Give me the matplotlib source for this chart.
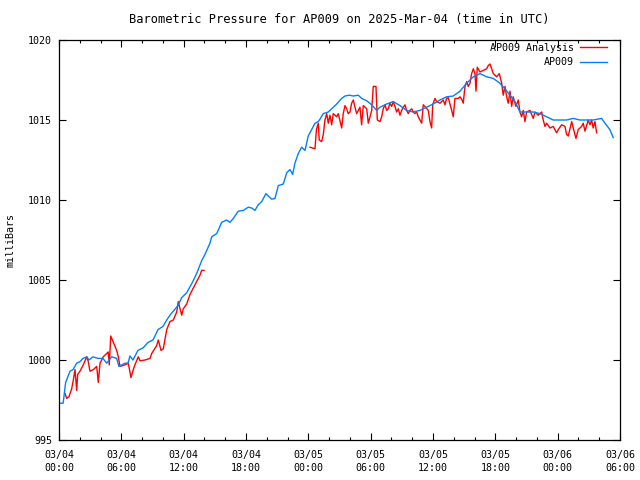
"""
Barometric pressure chart, gnuplot style.
"""

import matplotlib
matplotlib.use("Agg")
import matplotlib.pyplot as plt
import numpy as np
from matplotlib.ticker import MultipleLocator

# Station reading (hours since 03/04 00:00 UTC, mbar)
station_hours = [
    0.1, 0.4, 0.64, 1.06, 1.35, 1.70, 2.02, 2.31, 2.67, 2.89, 3.27, 3.75, 4.23,
    4.59, 5.07, 5.55, 5.77, 6.35, 6.64, 6.83, 7.12, 7.60, 8.08, 8.57, 9.05,
    9.53, 10.01, 10.37, 10.68, 11.45, 11.81, 12.29, 12.8, 13.25, 13.73, 14.05,
    14.53, 14.70, 15.18, 15.66, 16.14, 16.46, 16.78, 17.26, 17.74, 18.22,
    18.55, 18.86, 19.18, 19.51, 19.92, 20.14, 20.47, 20.79, 21.11, 21.59,
    21.92, 22.23, 22.49, 22.71, 23.03, 23.36, 23.68, 23.99, 24.32, 24.64,
    24.96, 25.12, 25.44, 25.92, 26.40, 26.73, 27.21, 27.53, 27.94, 28.33,
    28.81, 29.13, 29.62, 30.10, 30.58, 30.90, 31.54, 32.18, 32.82, 33.46,
    34.10, 34.74, 35.39, 36.02, 36.67, 37.31, 37.95, 38.60, 39.24, 39.88,
    40.52, 41.16, 41.80, 42.44, 42.93, 43.41, 43.89, 44.37, 45.01, 45.65,
    46.29, 46.94, 47.57, 48.22, 48.86, 49.50, 50.14, 50.79, 51.42, 52.23,
    52.55, 53.03, 53.35,
]
station_mbar = [
    997.3, 997.3, 998.6, 999.3, 999.4, 999.8, 999.9, 1000.1, 1000.2, 1000.0,
    1000.2, 1000.1, 1000.1, 999.8, 1000.2, 1000.1, 999.6, 999.8, 999.8,
    1000.25, 1000.0, 1000.6, 1000.75, 1001.1, 1001.25, 1001.9, 1002.1,
    1002.5, 1002.8, 1003.4, 1003.9, 1004.2, 1004.8, 1005.4, 1006.2, 1006.6,
    1007.3, 1007.7, 1007.9, 1008.6, 1008.75, 1008.6, 1008.85, 1009.3,
    1009.35, 1009.55, 1009.5, 1009.35, 1009.7, 1009.9, 1010.4, 1010.25,
    1010.05, 1010.1, 1010.9, 1011.0, 1011.7, 1011.9, 1011.6, 1012.3, 1012.9,
    1013.3, 1013.1, 1014.0, 1014.4, 1014.8, 1014.9, 1015.05, 1015.4, 1015.5,
    1015.8, 1016.0, 1016.35, 1016.5, 1016.55, 1016.5, 1016.55, 1016.35,
    1016.2, 1015.95, 1015.6, 1015.8, 1016.0, 1016.15, 1015.9, 1015.6, 1015.5,
    1015.6, 1015.8, 1016.0, 1016.25, 1016.45, 1016.5, 1016.8, 1017.3,
    1017.7, 1017.9, 1017.7, 1017.6, 1017.3, 1016.95, 1016.55, 1016.15,
    1015.5, 1015.5, 1015.5, 1015.4, 1015.2, 1015.0, 1015.0, 1015.0, 1015.1,
    1015.0, 1015.0, 1015.0, 1015.1, 1014.8, 1014.4, 1013.9,
]

# Analysis, first stretch
analysis_hours_a = [
    0.58, 0.74, 0.96, 1.22, 1.38, 1.54, 1.70, 1.80, 2.02, 2.34, 2.67, 2.82,
    2.98, 3.30, 3.63, 3.78, 3.95, 4.26, 4.59, 4.74, 4.84, 4.98, 5.23, 5.55,
    5.71, 5.87, 6.35, 6.67, 6.93, 7.15, 7.31, 7.63, 7.80, 8.28, 8.76, 8.92,
    9.40, 9.56, 9.82, 10.04, 10.37, 10.68, 11.00, 11.33, 11.48, 11.81, 11.96,
    12.29, 12.61, 12.93, 13.25, 13.57, 13.73, 13.96,
]
analysis_mbar_a = [
    997.9, 997.6, 997.7, 998.2, 998.75, 999.4, 998.1, 999.1, 999.3, 999.7,
    1000.2, 999.9, 999.3, 999.4, 999.6, 998.6, 999.8, 1000.2, 1000.4, 1000.5,
    999.7, 1001.5, 1001.1, 1000.6, 1000.2, 999.6, 999.7, 999.8, 998.9, 999.4,
    999.7, 1000.2, 999.95, 1000.0, 1000.1, 1000.4, 1000.9, 1001.25, 1000.6,
    1000.7, 1001.9, 1002.4, 1002.5, 1003.0, 1003.65, 1002.8, 1003.2, 1003.5,
    1004.1, 1004.5, 1004.9, 1005.3, 1005.6, 1005.6,
]

# Analysis, second stretch
analysis_hours_b = [
    24.16, 24.64, 24.78, 24.96, 25.05, 25.28, 25.44, 25.60, 25.77, 25.92,
    26.08, 26.25, 26.40, 26.73, 26.88, 27.21, 27.36, 27.53, 27.69, 27.84,
    28.01, 28.17, 28.33, 28.49, 28.65, 28.97, 29.13, 29.29, 29.62, 29.77,
    29.93, 30.10, 30.25, 30.51, 30.64, 30.90, 31.06, 31.21, 31.38, 31.54,
    31.69, 31.86, 32.02, 32.18, 32.34, 32.50, 32.66, 32.82, 32.98, 33.30,
    33.46, 33.62, 33.78, 33.95, 34.10, 34.26, 34.43, 34.58, 34.74, 34.91,
    35.06, 35.23, 35.54, 35.71, 35.87, 35.97, 36.19, 36.35, 36.67, 36.99,
    37.15, 37.31, 37.47, 37.80, 37.95, 38.11, 38.43, 38.60, 38.76, 38.91,
    39.08, 39.24, 39.39, 39.56, 39.72, 39.88, 40.04, 40.14, 40.26, 40.52,
    40.84, 41.16, 41.32, 41.48, 41.65, 41.80, 42.13, 42.38, 42.61, 42.76,
    42.93, 43.09, 43.24, 43.41, 43.57, 43.72, 43.98, 44.21, 44.37, 44.53,
    44.69, 44.85, 45.01, 45.33, 45.65, 45.81, 46.13, 46.46, 46.61, 46.78,
    46.94, 47.26, 47.57, 47.90, 48.06, 48.38, 48.70, 48.86, 49.02, 49.35,
    49.50, 49.76, 49.98, 50.31, 50.46, 50.63, 50.94, 51.11, 51.27, 51.42,
    51.59, 51.75,
]
analysis_mbar_b = [
    1013.3, 1013.2, 1014.4, 1014.8, 1013.75, 1013.65, 1014.1, 1015.0, 1015.4,
    1014.8, 1015.3, 1014.7, 1015.4, 1015.2, 1015.4, 1014.5, 1015.4, 1015.9,
    1015.7, 1015.4, 1015.5, 1016.05, 1016.25, 1015.8, 1015.4, 1015.8, 1014.7,
    1015.9, 1015.7, 1014.8, 1015.2, 1015.6, 1017.1, 1017.1, 1015.0, 1014.9,
    1015.2, 1015.7, 1015.95, 1015.6, 1015.7, 1016.05, 1015.85, 1016.15,
    1015.85, 1015.5, 1015.7, 1015.3, 1015.6, 1015.95, 1015.6, 1015.4, 1015.6,
    1015.7, 1015.5, 1015.4, 1015.5, 1015.2, 1015.0, 1014.8, 1015.95, 1015.85,
    1015.6, 1014.9, 1014.5, 1015.95, 1016.35, 1016.15, 1016.05, 1016.25,
    1015.95, 1016.35, 1016.4, 1015.6, 1015.2, 1016.35, 1016.35, 1016.45,
    1016.3, 1016.05, 1017.1, 1017.4, 1017.1, 1017.3, 1017.9, 1018.2, 1017.9,
    1016.8, 1018.3, 1018.0, 1018.1, 1018.2, 1018.4, 1018.5, 1018.2, 1017.9,
    1017.7, 1017.9, 1017.3, 1016.55, 1017.1, 1016.45, 1016.05, 1016.8,
    1015.85, 1016.45, 1015.85, 1016.25, 1015.5, 1015.2, 1015.6, 1014.9,
    1015.5, 1015.6, 1015.1, 1015.5, 1015.3, 1015.5, 1015.0, 1014.6, 1014.8,
    1014.5, 1014.6, 1014.2, 1014.4, 1014.7, 1014.6, 1014.1, 1014.0, 1014.9,
    1014.5, 1013.85, 1014.4, 1014.6, 1014.8, 1014.3, 1015.0, 1014.7, 1015.0,
    1014.5, 1014.9, 1014.2,
]

tick_hours = [0, 6, 12, 18, 24, 30, 36, 42, 48, 54]
tick_labels = [
    "03/04\n00:00", "03/04\n06:00", "03/04\n12:00", "03/04\n18:00",
    "03/05\n00:00", "03/05\n06:00", "03/05\n12:00", "03/05\n18:00",
    "03/06\n00:00", "03/06\n06:00",
]

plt.rcParams['font.family'] = ['DejaVu Sans Mono']
plt.rcParams['font.size'] = 7.2

fig = plt.figure(figsize=(6.4, 4.8), dpi=100)
ax = fig.add_axes([59 / 640, 40 / 480, 561 / 640, 400 / 480])

# gap between the two analysis stretches
gap_hours = analysis_hours_a + [np.nan] + analysis_hours_b
gap_mbar = analysis_mbar_a + [np.nan] + analysis_mbar_b

ax.plot(gap_hours, gap_mbar, color='#ff0000', lw=1.0, label='AP009 Analysis')
ax.plot(station_hours, station_mbar, color='#0080ff', lw=1.0, label='AP009')

ax.set_xlim(0, 54)
ax.set_ylim(995, 1020)
ax.set_xticks(tick_hours)
ax.set_xticklabels(tick_labels, linespacing=1.35)
ax.xaxis.set_minor_locator(MultipleLocator(2))
ax.set_yticks(np.arange(995, 1021, 5))

ax.tick_params(which='both', direction='in', top=True, right=True, width=0.8)
ax.tick_params(which='major', length=5)
ax.tick_params(axis='x', which='major', pad=7)
ax.tick_params(axis='y', which='major', pad=5)
ax.tick_params(which='minor', length=2.5)
for s in ax.spines.values():
    s.set_linewidth(0.9)

ax.set_ylabel('milliBars', labelpad=9)
ax.set_title('Barometric Pressure for AP009 on 2025-Mar-04 (time in UTC)', pad=12)

ax.legend(loc='upper right', bbox_to_anchor=(1 - 6 / 561, 1 + 4 / 400),
          frameon=False, markerfirst=False, handlelength=2.7,
          borderaxespad=0.3, labelspacing=0.45, handletextpad=0.6,
          alignment='right')

fig.savefig('out.png', dpi=100)
